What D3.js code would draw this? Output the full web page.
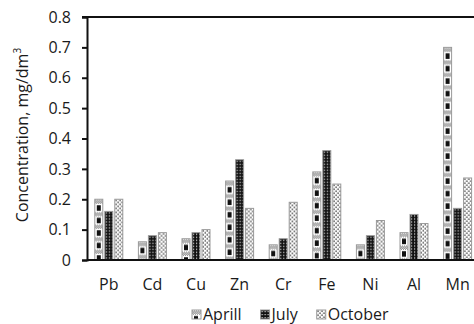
<!DOCTYPE html>
<html>
<head>
<meta charset="utf-8">
<script src="https://cdn.jsdelivr.net/npm/d3@7"></script>
<style>
  body { margin: 0; background: #fff; }
  svg { display: block; font-family: "Open Sans", sans-serif; }
</style>
</head>
<body>
<div id="chart"></div>
<script>
// Data
var metals = ["Pb", "Cd", "Cu", "Zn", "Cr", "Fe", "Ni", "Al", "Mn"];
var seriesNames = ["Aprill", "July", "October"];
var april = [0.20, 0.06, 0.07, 0.26, 0.05, 0.29, 0.05, 0.09, 0.70];
var july = [0.16, 0.08, 0.09, 0.33, 0.07, 0.36, 0.08, 0.15, 0.17];
var october = [0.20, 0.09, 0.10, 0.17, 0.19, 0.25, 0.13, 0.12, 0.27];
var yTicks = [0, 0.1, 0.2, 0.3, 0.4, 0.5, 0.6, 0.7, 0.8];

var svgWidth = 474;
var svgHeight = 324;

var margin = { top: 17, left: 87, bottom: 64 };
var plotRight = 479.4; // plot runs past the right edge in the reference

var svg = d3.select("#chart")
    .append("svg")
    .attr("width", svgWidth)
    .attr("height", svgHeight);

var defs = svg.append("defs");

// scales
var xScale = d3.scaleBand()
    .domain(metals)
    .range([margin.left, plotRight]);

var xInner = d3.scaleBand()
    .domain(seriesNames)
    .range([-14, 14])
    .paddingInner(0.2);

var yScale = d3.scaleLinear()
    .domain([0, 0.8])
    .range([svgHeight - margin.bottom, margin.top]);

// pattern builders, one per bar so the tiles line up with the bar
function aprilPattern(id, x, y) {
    var p = defs.append("pattern").attr("id", id)
        .attr("patternUnits", "userSpaceOnUse")
        .attr("x", x).attr("y", y)
        .attr("width", 8).attr("height", 12.5);
    p.append("rect").attr("width", 8).attr("height", 12.5).attr("fill", "#fff");
    for (var i = 0; i < 8; i++) {
        for (var j = 0; j < 4; j++) {
            if ((i + j) % 2 === 0) {
                p.append("rect").attr("x", i).attr("y", j + 0.5)
                    .attr("width", 1).attr("height", 1).attr("fill", "#666");
            }
        }
    }
    p.append("rect").attr("x", 2).attr("y", 6).attr("width", 4).attr("height", 5.5).attr("fill", "#111");
}

function julyPattern(id, x, y) {
    var p = defs.append("pattern").attr("id", id)
        .attr("patternUnits", "userSpaceOnUse")
        .attr("x", x).attr("y", y)
        .attr("width", 3).attr("height", 3);
    p.append("rect").attr("width", 3).attr("height", 3).attr("fill", "#111");
    p.append("rect").attr("x", 1).attr("y", 1).attr("width", 1.2).attr("height", 1.2).attr("fill", "#ddd");
}

function octoberPattern(id, x, y) {
    var p = defs.append("pattern").attr("id", id)
        .attr("patternUnits", "userSpaceOnUse")
        .attr("x", x).attr("y", y)
        .attr("width", 4).attr("height", 4);
    p.append("rect").attr("width", 4).attr("height", 4).attr("fill", "#fff");
    p.append("rect").attr("x", 0.5).attr("y", 0.5).attr("width", 1.5).attr("height", 1.3).attr("fill", "#333");
    p.append("rect").attr("x", 2.5).attr("y", 2.5).attr("width", 1.5).attr("height", 1.3).attr("fill", "#333");
}

var makers = [aprilPattern, julyPattern, octoberPattern];
var seriesValues = [april, july, october];

// flatten into bar records
var bars = [];
metals.forEach(function(m, i) {
    seriesNames.forEach(function(s, k) {
        bars.push({ metal: m, series: s, k: k, value: seriesValues[k][i] });
    });
});

// top border of the plot area
svg.append("line")
    .attr("x1", margin.left - 5).attr("x2", svgWidth)
    .attr("y1", yScale(0.8)).attr("y2", yScale(0.8))
    .attr("stroke", "#111").attr("stroke-width", 2);

// bars
var barGroup = svg.append("g");
bars.forEach(function(d, i) {
    var bx = xScale(d.metal) + xScale.bandwidth() / 2 + xInner(d.series);
    var by = yScale(d.value);
    var id = "pat" + i;
    makers[d.k](id, bx, by);
    barGroup.append("rect")
        .attr("x", bx)
        .attr("y", by)
        .attr("width", xInner.bandwidth())
        .attr("height", yScale(0) - by)
        .attr("fill", "url(#" + id + ")")
        .attr("stroke", "#999")
        .attr("stroke-width", 1);
});

// y axis
var leftAxis = d3.axisLeft(yScale)
    .tickValues(yTicks)
    .tickSize(5)
    .tickPadding(11)
    .tickFormat(function(d) { return d === 0 ? "0" : d3.format(".1f")(d); });

var yAxis = svg.append("g")
    .attr("transform", "translate(" + margin.left + ",0)")
    .call(leftAxis);
yAxis.select(".domain").attr("stroke", "#111").attr("stroke-width", 2);
yAxis.selectAll(".tick line").attr("stroke", "#111").attr("stroke-width", 2);
yAxis.selectAll("text")
    .attr("font-size", "16px")
    .attr("font-family", "Open Sans, sans-serif")
    .attr("fill", "#1a1a1a");

// baseline
svg.append("line")
    .attr("x1", margin.left).attr("x2", svgWidth)
    .attr("y1", yScale(0)).attr("y2", yScale(0))
    .attr("stroke", "#111").attr("stroke-width", 2);

// category labels
svg.selectAll(".cat")
    .data(metals)
    .enter()
    .append("text")
    .attr("class", "cat")
    .attr("x", function(d) { return xScale(d) + xScale.bandwidth() / 2; })
    .attr("y", 290)
    .attr("text-anchor", "middle")
    .attr("font-size", "16px")
    .attr("fill", "#1a1a1a")
    .text(function(d) { return d; });

// y axis title
var yTitle = svg.append("text")
    .attr("transform", "rotate(-90)")
    .attr("x", -135)
    .attr("y", 28)
    .attr("text-anchor", "middle")
    .attr("font-size", "16px")
    .attr("fill", "#1a1a1a");
yTitle.append("tspan").text("Concentration, mg/dm");
yTitle.append("tspan")
    .attr("font-size", "10px")
    .attr("dy", "-7")
    .text("3");

// legend
var legendX = 192;
seriesNames.forEach(function(s, k) {
    var id = "leg" + k;
    makers[k](id, legendX, 310);
    svg.append("rect")
        .attr("x", legendX).attr("y", 310)
        .attr("width", 9).attr("height", 9)
        .attr("fill", "url(#" + id + ")")
        .attr("stroke", "#999")
        .attr("stroke-width", 1);
    var t = svg.append("text")
        .attr("x", legendX + 11)
        .attr("y", 320)
        .attr("font-size", "16px")
        .attr("fill", "#1a1a1a")
        .text(s);
    legendX += 11 + t.node().getComputedTextLength() + 19;
});
</script>
</body>
</html>
